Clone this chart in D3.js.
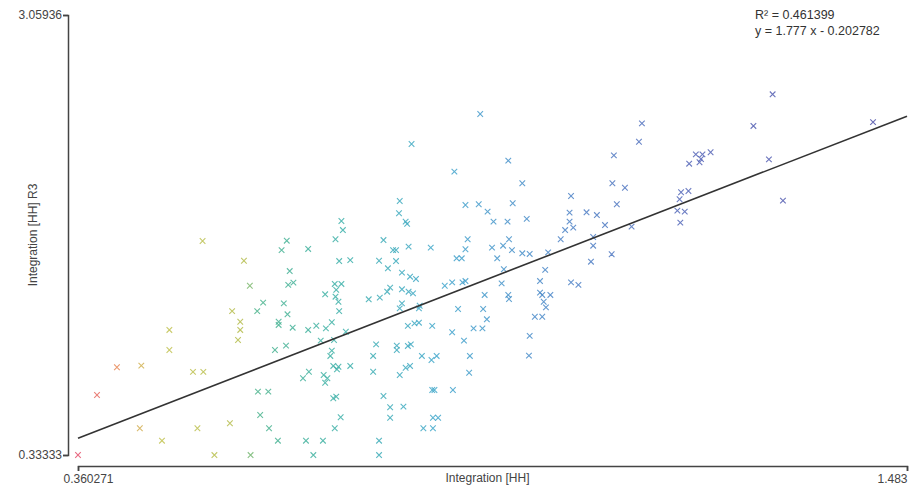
<!DOCTYPE html>
<html>
<head>
<meta charset="utf-8">
<script src="https://cdn.jsdelivr.net/npm/d3@7"></script>
<style>
  body { margin: 0; background: #fff; }
  text { font-family: "Liberation Sans", Arial, sans-serif; }
</style>
</head>
<body>
<div id="chart"></div>
<script>
// values
const xDomain = [0.360271, 1.483];
const yDomain = [0.33333, 3.05936];
const r2 = 0.461399;
const slope = 1.777;
const intercept = -0.202782;

// Integration [HH]
const integrationHH = [
  0.529, 0.643, 0.636, 0.672, 0.585, 0.647, 0.593, 0.645, 0.652, 0.569,
  0.580, 0.580, 0.577, 0.611, 0.603, 0.639, 0.644, 0.632, 0.632, 0.651,
  0.672, 0.627, 0.642, 0.484, 0.484, 0.413, 0.446, 0.516, 0.530, 0.386,
  0.604, 0.618, 0.665, 0.673, 0.607, 0.619, 0.631, 0.669, 0.444, 0.522,
  0.566, 0.474, 0.545, 0.594, 0.360271,
  0.905, 0.812, 0.943, 0.870, 0.962, 1.028, 0.796, 0.795, 0.804, 0.806,
  0.885, 0.903, 0.915, 0.949, 0.923, 0.942, 0.968, 1.026, 1.049, 1.063,
  1.026, 1.020, 1.031, 1.014, 0.717, 0.719, 0.709, 0.774, 0.787, 0.791,
  0.808, 0.838, 0.888, 0.885, 0.944, 0.921, 0.936, 0.948, 1.058, 1.058,
  1.055, 0.714, 0.729, 0.768, 0.791, 0.780, 0.873, 0.880, 0.928, 0.962,
  0.972, 0.997, 0.993, 0.937, 0.799, 0.810, 0.818, 0.708, 0.717, 0.710,
  0.709, 0.713, 0.695, 0.714, 0.857, 0.867, 0.881, 0.885, 0.934, 0.986,
  1.028, 1.038, 0.911, 0.943, 0.944, 0.986, 0.989, 1.000, 0.991, 0.994,
  0.754, 0.769, 0.779, 0.783, 0.799, 0.808, 0.814, 0.799, 0.796, 0.822,
  0.823, 0.875, 0.909, 0.914, 0.896, 0.908, 0.979, 0.989, 0.972, 0.971,
  0.683, 0.696, 0.704, 0.723, 0.689, 0.707, 0.807, 0.816, 0.822, 0.840,
  0.867, 0.883, 0.764, 0.760, 0.792, 0.792, 0.807, 0.811, 0.826, 0.839,
  0.846, 0.891, 0.704, 0.702, 0.706, 0.713, 0.711, 0.729, 0.693, 0.698,
  0.695, 0.760, 0.796, 0.804, 0.810, 0.890, 0.774, 0.840, 0.843, 0.868,
  0.706, 0.710, 0.716, 0.783, 0.801, 0.783, 0.841, 0.848, 0.708, 0.828,
  0.841, 0.692, 0.768, 0.679, 0.768,
  1.301, 1.275, 1.437, 1.296, 1.315, 1.124, 1.120, 1.086, 1.197, 1.206,
  1.217, 1.188, 1.202, 1.204, 1.084, 1.101, 1.090, 1.177, 1.187, 1.175,
  1.172, 1.182, 1.176, 1.074, 1.110, 1.083
];

// Integration [HH] R3
const integrationR3 = [
  1.659, 1.661, 1.603, 1.610, 1.537, 1.473, 1.382, 1.387, 1.401, 1.225,
  1.159, 1.108, 1.046, 1.277, 1.225, 1.273, 1.205, 1.159, 1.139, 1.122,
  1.108, 0.984, 1.011, 1.108, 0.984, 0.877, 0.887, 0.848, 0.848, 0.705,
  0.726, 0.726, 0.809, 0.849, 0.581, 0.499, 0.422, 0.422, 0.499, 0.499,
  0.530, 0.422, 0.333, 0.333, 0.33333,
  2.446, 2.260, 2.157, 2.089, 2.017, 1.938, 1.907, 1.831, 1.779, 1.765,
  1.882, 1.887, 1.841, 1.893, 1.779, 1.779, 1.796, 1.835, 1.837, 1.820,
  1.779, 1.727, 1.742, 1.670, 1.783, 1.727, 1.670, 1.665, 1.603, 1.603,
  1.624, 1.618, 1.670, 1.608, 1.670, 1.618, 1.630, 1.603, 1.684, 1.630,
  1.531, 1.535, 1.541, 1.537, 1.535, 1.490, 1.552, 1.552, 1.552, 1.583,
  1.579, 1.589, 1.480, 1.484, 1.463, 1.438, 1.424, 1.393, 1.393, 1.356,
  1.314, 1.283, 1.329, 1.225, 1.382, 1.403, 1.403, 1.411, 1.397, 1.411,
  1.403, 1.387, 1.325, 1.325, 1.300, 1.339, 1.325, 1.325, 1.283, 1.248,
  1.298, 1.308, 1.345, 1.370, 1.360, 1.345, 1.335, 1.273, 1.242, 1.242,
  1.258, 1.238, 1.238, 1.174, 1.118, 1.118, 1.190, 1.190, 1.071, 0.949,
  1.134, 1.118, 1.156, 1.097, 1.042, 1.046, 1.133, 1.149, 1.153, 1.133,
  1.094, 1.042, 1.019, 0.947, 1.011, 0.984, 1.009, 1.019, 0.947, 0.922,
  0.947, 0.947, 0.980, 0.947, 0.885, 0.880, 0.864, 0.885, 0.829, 0.809,
  0.781, 0.849, 0.829, 0.874, 0.885, 0.843, 0.699, 0.736, 0.736, 0.736,
  0.685, 0.695, 0.567, 0.629, 0.633, 0.564, 0.564, 0.564, 0.499, 0.499,
  0.499, 0.422, 0.422, 0.333, 0.333,
  2.568, 2.372, 2.396, 2.165, 1.909, 2.388, 2.274, 2.190, 2.196, 2.196,
  2.209, 2.138, 2.147, 2.167, 2.017, 1.989, 1.887, 1.961, 1.969, 1.918,
  1.847, 1.841, 1.773, 1.758, 1.748, 1.577
];

// colour of a marker follows its Integration [HH] value
const colorStops = [0.36, 0.42, 0.46, 0.585, 0.60, 0.72, 0.85, 1.0, 1.2, 1.45];
const colorList = ["#e4506c", "#e88e52", "#c4c452", "#b4bc4c", "#4cb48c",
                   "#3cb0aa", "#40a6cc", "#4a86c8", "#5262b6", "#5052a8"];

const width = 909, height = 491;
const margin = { top: 15, right: 2, bottom: 36, left: 68 };

const svg = d3.select("#chart").append("svg")
  .attr("width", width)
  .attr("height", height);

const x = d3.scaleLinear().domain(xDomain).range([78, width - margin.right]);
const y = d3.scaleLinear().domain(yDomain).range([455, margin.top]);
const color = d3.scaleLinear().domain(colorStops).range(colorList).clamp(true);

const points = integrationHH.map((v, i) => ({ x: v, y: integrationR3[i] }));

// axes, only the two end values are labelled
const xAxis = d3.axisBottom(x)
  .tickValues(xDomain)
  .tickFormat((d, i) => i === 0 ? "0.360271" : "1.483")
  .tickSizeInner(5).tickSizeOuter(5).tickPadding(3);

const yAxis = d3.axisLeft(y)
  .tickValues(yDomain)
  .tickFormat((d, i) => i === 0 ? "0.33333" : "3.05936")
  .tickSizeInner(5).tickSizeOuter(5).tickPadding(1);

const gx = svg.append("g")
  .attr("transform", "translate(0,466)")
  .call(xAxis);

const gy = svg.append("g")
  .attr("transform", `translate(${margin.left},0)`)
  .call(yAxis);

[gx, gy].forEach(g => {
  g.select(".domain").attr("stroke", "#444").attr("stroke-width", 1.5);
  g.selectAll(".tick line").attr("stroke", "#444").attr("stroke-width", 1.5);
  g.selectAll(".tick text")
    .attr("fill", "#444")
    .attr("font-size", 12)
    .attr("font-family", "Liberation Sans, Arial, sans-serif");
});

gx.selectAll(".tick text")
  .attr("text-anchor", (d, i) => i === 0 ? "middle" : "end")
  .attr("dx", (d, i) => i === 0 ? 10 : 0);

// axis titles
svg.append("text")
  .attr("x", (x.range()[0] + x.range()[1]) / 2 - 5)
  .attr("y", 482)
  .attr("text-anchor", "middle")
  .attr("font-size", 12)
  .attr("fill", "#444")
  .text("Integration [HH]");

svg.append("text")
  .attr("transform", `translate(37,${(y.range()[0] + y.range()[1]) / 2}) rotate(-90)`)
  .attr("text-anchor", "middle")
  .attr("font-size", 12)
  .attr("fill", "#444")
  .text("Integration [HH] R3");

// markers
const cross = "M-2.8,-2.8L2.8,2.8M-2.8,2.8L2.8,-2.8";
svg.append("g")
  .selectAll("path")
  .data(points)
  .join("path")
  .attr("transform", d => `translate(${x(d.x)},${y(d.y)})`)
  .attr("d", cross)
  .attr("fill", "none")
  .attr("stroke", d => color(d.x))
  .attr("stroke-width", 1.1)
  .attr("stroke-opacity", 0.85);

// regression line
const fit = v => slope * v + intercept;
svg.append("line")
  .attr("x1", x(xDomain[0]))
  .attr("y1", y(fit(xDomain[0])))
  .attr("x2", x(xDomain[1]))
  .attr("y2", y(fit(xDomain[1])))
  .attr("stroke", "#333")
  .attr("stroke-width", 1.6);

// fit annotation
const note = svg.append("text")
  .attr("x", 755)
  .attr("font-size", 12.5)
  .attr("fill", "#333");
note.append("tspan").attr("x", 755).attr("y", 19).text("R² = " + r2);
note.append("tspan").attr("x", 755).attr("y", 35)
  .text(`y = ${slope} x - ${Math.abs(intercept)}`);
</script>
</body>
</html>
